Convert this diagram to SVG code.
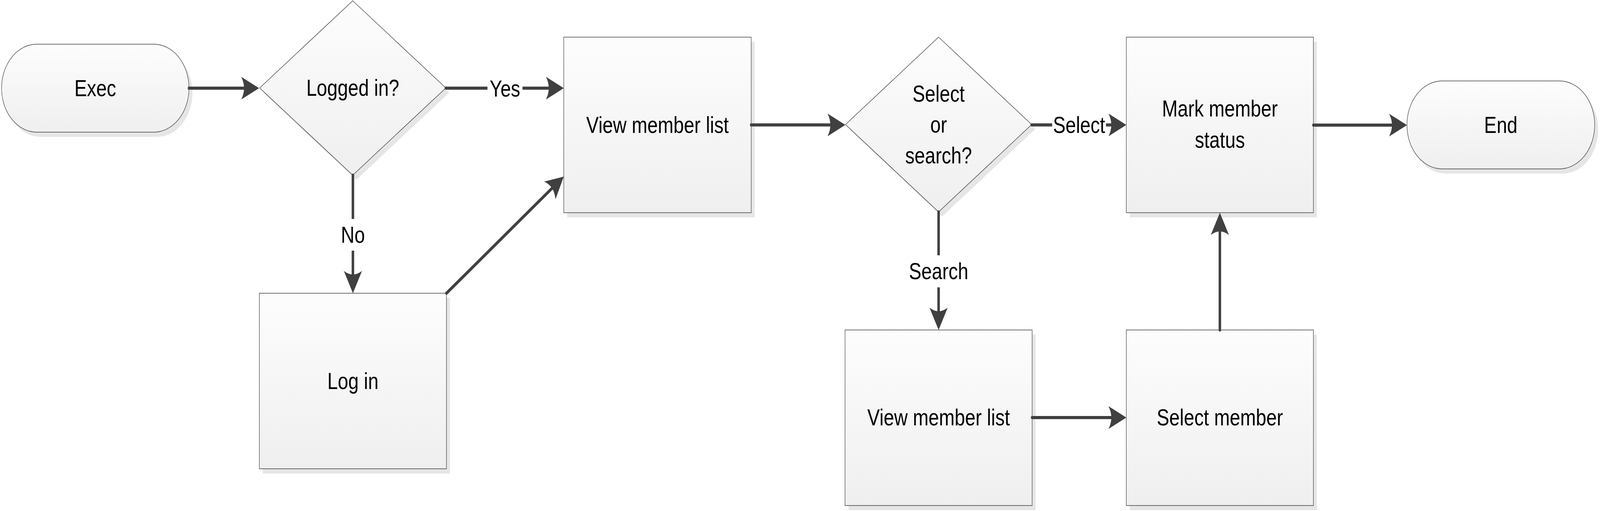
<svg xmlns="http://www.w3.org/2000/svg" width="5114" height="1307" viewBox="0 0 5114 1307" preserveAspectRatio="none">
  <defs>
    <linearGradient id="fillGrad" x1="0" y1="0" x2="0" y2="1">
      <stop offset="0" stop-color="#fdfdfd"/>
      <stop offset="1" stop-color="#efefef"/>
    </linearGradient>
    <marker id="arr" markerUnits="userSpaceOnUse" markerWidth="58" markerHeight="58" viewBox="0 0 58 58" refX="37" refY="29" orient="auto" overflow="visible">
      <path d="M57,29 L0,0 Q18,29 0,58 Z" fill="#404040"/>
    </marker>
  </defs>
  <style>
    :root { width: 100vw; height: 100vh; }
    .shape { fill: url(#fillGrad); stroke: #404040; stroke-width: 1.5; }
    .shadow { fill: #e6e6e6; stroke: none; }
    .t { font-family: "Liberation Sans", Arial, sans-serif; font-size: 60px; fill: #000000; text-anchor: middle; }
    .conn { fill: none; stroke: #404040; stroke-width: 8; stroke-linecap: round; marker-end: url(#arr); }
    .lblbg { fill: #ffffff; stroke: none; }
  </style>
  <rect x="0" y="0" width="5114" height="1307" fill="#ffffff"/>

  <g id="node-exec">
    <rect class="shadow" x="16" y="125" width="599" height="225" rx="112.5" ry="112.5"/>
    <rect class="shape" x="5" y="113" width="599" height="225" rx="112.5" ry="112.5"/>
    <text class="t" x="304.5" y="246">Exec</text>
  </g>

  <g id="node-logged-in">
    <polygon class="shadow" points="1138.5,14 1436,237 1138.5,460 841,237"/>
    <polygon class="shape" points="1127.5,2 1425,225 1127.5,448 830,225"/>
    <text class="t" x="1127.5" y="245">Logged in?</text>
  </g>

  <g id="node-log-in">
    <rect class="shadow" x="840" y="762" width="598" height="449"/>
    <rect class="shape" x="829" y="750" width="598" height="449"/>
    <text class="t" x="1128" y="995">Log in</text>
  </g>

  <g id="node-view-member-list-1">
    <rect class="shadow" x="1813" y="107" width="599" height="449"/>
    <rect class="shape" x="1802" y="95" width="599" height="449"/>
    <text class="t" x="2101.5" y="340">View member list</text>
  </g>

  <g id="node-select-or-search">
    <polygon class="shadow" points="3011,107 3308.5,330.5 3011,554 2713.5,330.5"/>
    <polygon class="shape" points="3000,95 3297.5,318.5 3000,542 2702.5,318.5"/>
    <text class="t" x="3000" y="260">Select</text>
    <text class="t" x="3000" y="339">or</text>
    <text class="t" x="3000" y="418">search?</text>
  </g>

  <g id="node-mark-member-status">
    <rect class="shadow" x="3611" y="107" width="598" height="449"/>
    <rect class="shape" x="3600" y="95" width="598" height="449"/>
    <text class="t" x="3899" y="298">Mark member</text>
    <text class="t" x="3899" y="378">status</text>
  </g>

  <g id="node-end">
    <rect class="shadow" x="4508" y="219" width="600" height="225" rx="112.5" ry="112.5"/>
    <rect class="shape" x="4497" y="207" width="600" height="225" rx="112.5" ry="112.5"/>
    <text class="t" x="4797" y="340">End</text>
  </g>

  <g id="node-view-member-list-2">
    <rect class="shadow" x="2712" y="856" width="598" height="449"/>
    <rect class="shape" x="2701" y="844" width="598" height="449"/>
    <text class="t" x="3000" y="1088">View member list</text>
  </g>

  <g id="node-select-member">
    <rect class="shadow" x="3611" y="856" width="598" height="449"/>
    <rect class="shape" x="3600" y="844" width="598" height="449"/>
    <text class="t" x="3899" y="1088">Select member</text>
  </g>

  <g id="connectors">
    <path class="conn" d="M604,225.5 L808,225.5"/>
    <path class="conn" d="M1425,225.5 L1782,225.5"/>
    <path class="conn" d="M1128,448 L1128,730"/>
    <path class="conn" d="M1427,750 L1786.3,464.2"/>
    <path class="conn" d="M2401,319.5 L2682,319.5"/>
    <path class="conn" d="M3297.5,319.5 L3580,319.5"/>
    <path class="conn" d="M3000,542 L3000,824"/>
    <path class="conn" d="M3299,1068 L3580,1068"/>
    <path class="conn" d="M3899,844 L3899,564"/>
    <path class="conn" d="M4198,320 L4477,320"/>

    <rect class="lblbg" x="1558" y="205" width="112" height="42"/>
    <text class="t" x="1614" y="247">Yes</text>
    <rect class="lblbg" x="1113" y="560" width="30" height="81"/>
    <text class="t" x="1128" y="621">No</text>
    <rect class="lblbg" x="3363" y="299" width="172" height="42"/>
    <text class="t" x="3449" y="340">Select</text>
    <rect class="lblbg" x="2985" y="653" width="30" height="82"/>
    <text class="t" x="3000" y="714">Search</text>
  </g>
</svg>
